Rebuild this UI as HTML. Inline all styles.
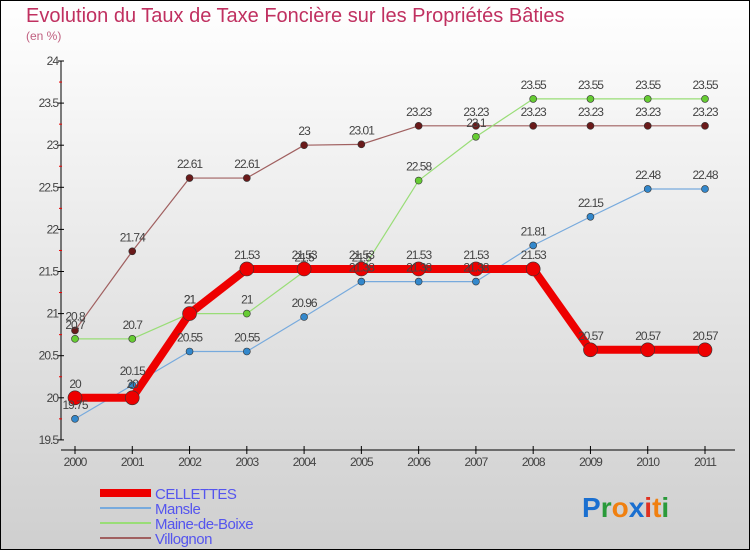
<!DOCTYPE html>
<html><head><meta charset="utf-8"><style>
body{margin:0;}
#c{width:750px;height:550px;position:relative;overflow:hidden;font-family:"Liberation Sans",sans-serif;}
</style></head><body>
<div id="c">
<svg id="s" width="750" height="550" xmlns="http://www.w3.org/2000/svg">
<defs><linearGradient id="bg" x1="0" y1="0" x2="0" y2="1"><stop offset="0" stop-color="#ffffff"/><stop offset="1" stop-color="#cfcfcf"/></linearGradient></defs>
<rect x="0.5" y="0.5" width="749" height="549" fill="url(#bg)" stroke="#000"/>
<text x="26" y="22" font-size="20" fill="#c03060">Evolution du Taux de Taxe Foncière sur les Propriétés Bâties</text>
<text x="26" y="40" font-size="12" fill="#c06080">(en %)</text>
<g id="axes"></g><g id="series"></g><g id="labels"></g><g id="legend"></g>
<g font-size="28" font-weight="bold">
<text x="582" y="517"><tspan fill="#1a6fd0">P</tspan><tspan fill="#2a9a3a">r</tspan><tspan fill="#f08010">o</tspan><tspan fill="#1a6fd0">x</tspan><tspan fill="#e03020">i</tspan><tspan fill="#f08010">t</tspan><tspan fill="#2a9a3a">i</tspan></text>
</g>
</svg>
</div>
<script>
const years=["2000","2001","2002","2003","2004","2005","2006","2007","2008","2009","2010","2011"];
const yTicks=[19.5,20,20.5,21,21.5,22,22.5,23,23.5,24];
const seriesNames=["CELLETTES","Mansle","Maine-de-Boixe","Villognon"];
const cellettes=[20,20,21,21.53,21.53,21.53,21.53,21.53,21.53,20.57,20.57,20.57];
const mansle=[19.75,20.15,20.55,20.55,20.96,21.38,21.38,21.38,21.81,22.15,22.48,22.48];
const maine=[20.7,20.7,21,21,21.5,21.5,22.58,23.1,23.55,23.55,23.55,23.55];
const villognon=[20.8,21.74,22.61,22.61,23,23.01,23.23,23.23,23.23,23.23,23.23,23.23];
const NS="http://www.w3.org/2000/svg";
const X=i=>75+i*(630/11);
const Y=v=>61+(24-v)*84.2;
function mk(tag,attrs,parent){const e=document.createElementNS(NS,tag);for(const k in attrs)e.setAttribute(k,attrs[k]);document.getElementById(parent).appendChild(e);return e;}
// axes
let a=mk('line',{x1:61,y1:61,x2:61,y2:440,stroke:'#000'},'axes');


a=mk('line',{x1:61,y1:450,x2:735,y2:450,stroke:'#000'},'axes');


yTicks.forEach(v=>{
 mk('line',{x1:58,y1:Y(v),x2:64,y2:Y(v),stroke:'#000'},'axes');
 if(v<24) mk('line',{x1:59,y1:Y(v+0.25),x2:62,y2:Y(v+0.25),stroke:'#e00'},'axes');
 const t=mk('text',{x:58,y:Y(v)+4,'font-size':12,fill:'#444','text-anchor':'end','letter-spacing':'-1'},'axes');
 t.textContent=String(v);
 
 
});
years.forEach((y,i)=>{
 mk('line',{x1:X(i),y1:446,x2:X(i),y2:454,stroke:'#000'},'axes');
 const t=mk('text',{x:X(i),y:466,'font-size':12,fill:'#444','text-anchor':'middle','letter-spacing':'-1'},'axes');
 t.textContent=y;
 
 
});
const defs=[
 {d:villognon,c:'#6a1a1a',lc:'#a06060',w:1.2,r:3.5,n:'villognon'},
 {d:maine,c:'#66cc33',lc:'#99dd77',w:1.2,r:3.5,n:'maine-de-boixe'},
 {d:mansle,c:'#3388cc',lc:'#77aadd',w:1.2,r:3.5,n:'mansle'},
 {d:cellettes,c:'#ee0000',lc:'#ee0000',w:8,r:7,n:'cellettes'}
];
defs.forEach(s=>{
 const pl=mk('polyline',{points:s.d.map((v,i)=>X(i)+','+Y(v)).join(' '),fill:'none',stroke:s.lc,'stroke-width':s.w,'stroke-linejoin':'round'},'series');
 
 
 s.d.forEach((v,i)=>{
  const p=mk('circle',{cx:X(i),cy:Y(v),r:s.r,fill:s.c,stroke:'#333','stroke-width':0.6},'series');
  
  
  const t=mk('text',{x:X(i),y:Y(v)-10,'font-size':12,fill:'#444','text-anchor':'middle','letter-spacing':'-1'},'labels');
  t.textContent=String(v);
  
  
 });
});
const leg=[{c:'#ee0000',w:8},{c:'#77aadd',w:2},{c:'#99dd77',w:2},{c:'#a06060',w:2}];
seriesNames.forEach((n,i)=>{
 const y=493+i*15;
 const l=mk('line',{x1:100,y1:y,x2:151,y2:y,stroke:leg[i].c,'stroke-width':leg[i].w},'legend');
 
 
 const t=mk('text',{x:155,y:y+6,'font-size':15,fill:'#5555ee','letter-spacing':'-0.5'},'legend');
 t.textContent=n;
 
 
});
</script>
</body></html>
